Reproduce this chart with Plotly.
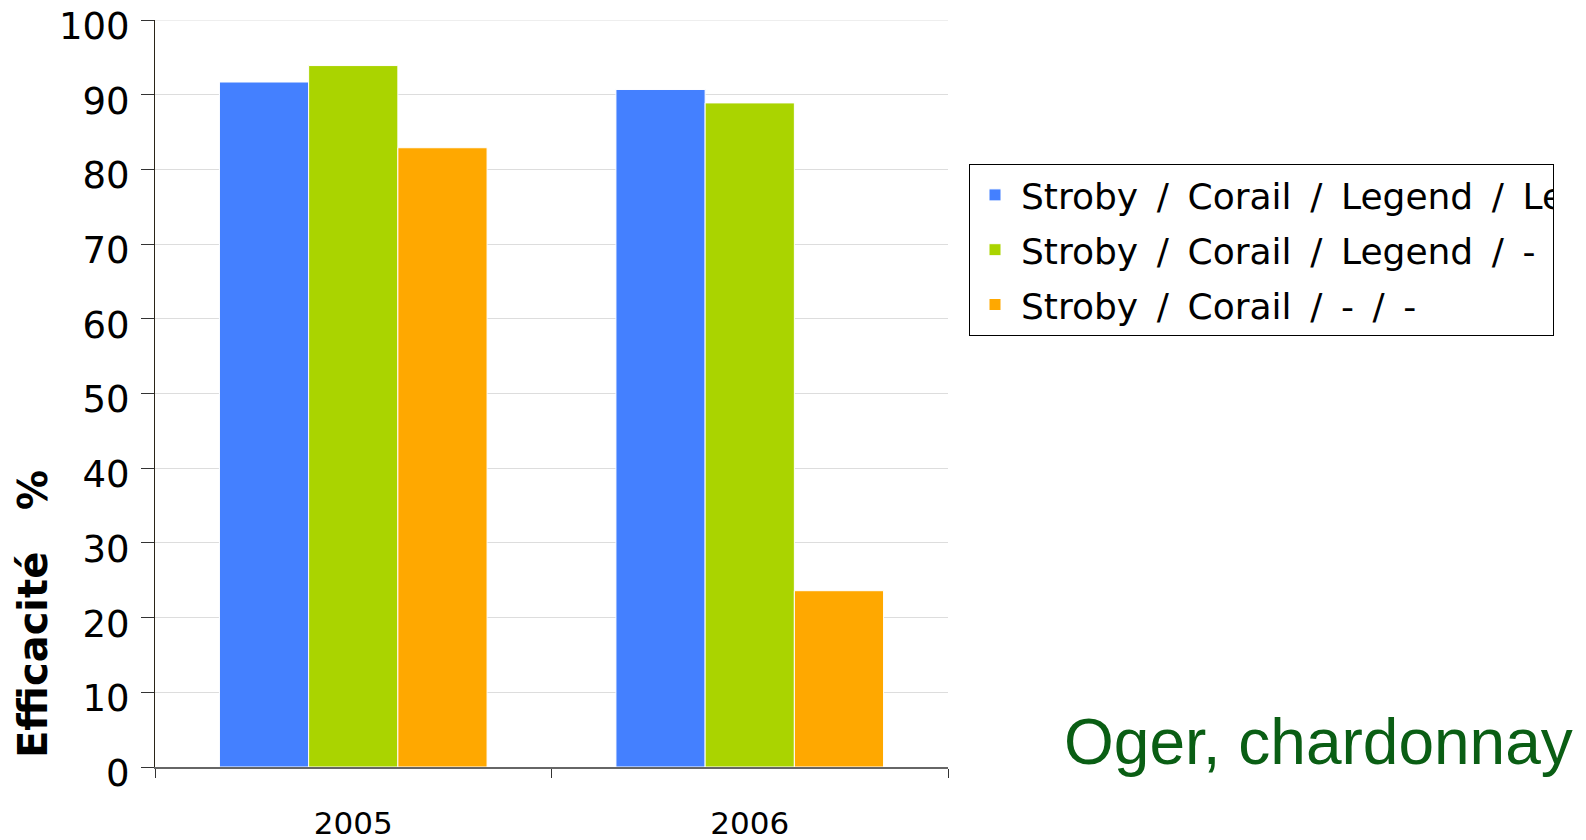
import plotly.graph_objects as go

years = ["2005", "2006"]
sp = "\u00a0\u2009"
series_names = [
    f"Stroby{sp}/{sp}Corail{sp}/{sp}Legend{sp}/{sp}Legend",
    f"Stroby{sp}/{sp}Corail{sp}/{sp}Legend{sp}/{sp}-",
    f"Stroby{sp}/{sp}Corail{sp}/{sp}-{sp}/{sp}-",
]
values_a = [91.7, 90.7]
values_b = [93.9, 88.9]
values_c = [82.9, 23.6]
colors = ["#4480FF", "#AAD400", "#FFA800"]

y_ticks = list(range(0, 101, 10))

fig = go.Figure()
for i, (name, vals, col) in enumerate(zip(series_names, [values_a, values_b, values_c], colors)):
    fig.add_trace(go.Bar(
        x=years, y=vals, name=name, legendgroup=f"g{i}",
        marker=dict(color=col, line=dict(color="white", width=1)),
    ))

OFF = 8  # page body margin
W, H = 1586 - OFF, 840 - OFF
L, R, T, B = 155 - OFF, 948 - OFF, 20 - OFF, 767 - OFF


def px(xfull):
    return (xfull - OFF - L) / (R - L)


def py(yfull):
    return (B - (yfull - OFF)) / (B - T)


fig.update_layout(
    width=W, height=H,
    margin=dict(l=L, r=W - R, t=T, b=H - B, autoexpand=False),
    paper_bgcolor="white", plot_bgcolor="white",
    barmode="group", bargap=0.325, bargroupgap=0,
    font=dict(family="DejaVu Sans", color="black"),
    showlegend=True,
    legend=dict(
        orientation="h",
        x=px(969), y=py(164), xanchor="left", yanchor="top",
        bordercolor="black", borderwidth=1, bgcolor="white",
        font=dict(family="DejaVu Sans", size=36, color="black"),
        traceorder="grouped", tracegroupgap=5,
        entrywidth=527, entrywidthmode="pixels",
        itemwidth=42,
    ),
    xaxis=dict(
        type="category", range=[-0.5, 1.5],
        showline=True, linecolor="#666666", linewidth=2,
        ticks="outside", tickson="boundaries", ticklen=9, tickcolor="#333333", tickwidth=1,
        tickfont=dict(family="DejaVu Sans", size=31, color="black"),
        ticklabelstandoff=28,
        showgrid=False,
    ),
    yaxis=dict(
        range=[0, 100], tickvals=y_ticks,
        showline=True, linecolor="#2a2418", linewidth=1,
        ticks="outside", ticklen=13, tickcolor="#333333",
        tickfont=dict(family="DejaVu Sans", size=37, color="black"),
        ticklabelstandoff=4, ticklabeloverflow="allow", ticklabelshift=6,
        showgrid=True, gridcolor="#DDDDDD", gridwidth=1,
        zeroline=False,
    ),
    shapes=[
        dict(type="line", xref="paper", yref="y", x0=0, x1=1, y0=100, y1=100,
             line=dict(color="#DDDDDD", width=1), layer="below"),
    ],
    annotations=[
        dict(text="Efficacité\u00a0\u00a0\u00a0%", textangle=-90,
             xref="paper", yref="paper",
             x=px(33), y=py(614),
             xanchor="center", yanchor="middle", showarrow=False,
             font=dict(family="DejaVu Sans", size=40, color="black", weight="bold")),
        dict(text="Oger, chardonnay",
             xref="paper", yref="paper",
             x=px(1318), y=py(742),
             xanchor="center", yanchor="middle", showarrow=False,
             font=dict(family="Liberation Sans, Arial", size=64, color="#0A5E14")),
    ],
)

fig.write_html("out.html")
